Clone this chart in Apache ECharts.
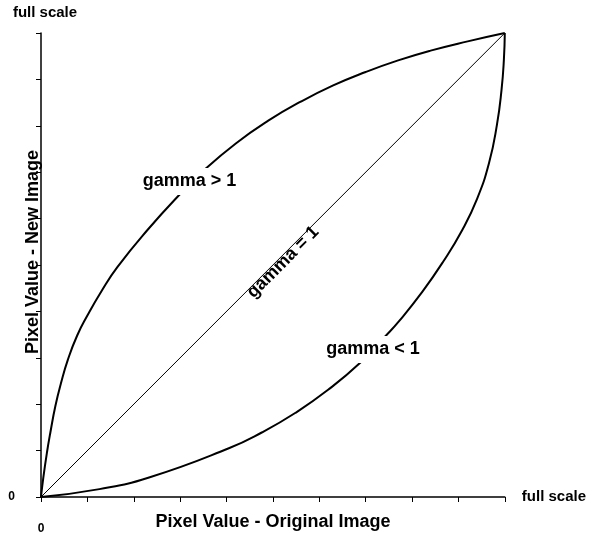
<!DOCTYPE html>
<html>
<head>
<meta charset="utf-8">
<script src="https://cdn.jsdelivr.net/npm/echarts@6/dist/echarts.min.js"></script>
<style>
  html, body { margin: 0; padding: 0; background: #fff; }
  #chart { width: 589px; height: 535px; }
</style>
</head>
<body>
<div id="chart"></div>
<script>
// Transfer curves: original pixel value (x) to new pixel value (y), 0..full scale
const fullScale = 10;

const gammaAbove = [
  [0, 0], [0.05, 0.42], [0.13, 0.97], [0.2, 1.38], [0.31, 1.96],
  [0.43, 2.45], [0.58, 2.96], [0.78, 3.48], [1.0, 3.91], [1.3, 4.43],
  [1.65, 4.96], [2.3, 5.76], [3.0, 6.53], [3.5, 7.03], [4.2, 7.62],
  [4.9, 8.11], [5.6, 8.52], [6.3, 8.87], [7.0, 9.16], [7.7, 9.41],
  [8.4, 9.62], [9.2, 9.82], [10, 10]
];

const gammaOne = [[0, 0], [10, 10]];

const gammaBelow = [
  [0, 0], [1.26, 0.17], [2.33, 0.42], [4.05, 1.05], [4.76, 1.39],
  [5.48, 1.81], [6.19, 2.31], [6.90, 2.91], [7.42, 3.46], [7.72, 3.79],
  [8.22, 4.42], [8.67, 5.07], [9.08, 5.75], [9.40, 6.42], [9.66, 7.20],
  [9.83, 8.02], [9.93, 8.78], [9.98, 9.42], [10, 10]
];

const curveNames = ['gamma > 1', 'gamma = 1', 'gamma < 1'];
const endLabel = 'full scale';
const originLabel = '0';
const xTitle = 'Pixel Value - Original Image';
const yTitle = 'Pixel Value - New Image';

const FONT = '"Liberation Sans", Arial, Helvetica, sans-serif';
const INK = '#000';

const chart = echarts.init(document.getElementById('chart'), null, { renderer: 'canvas' });

function axis(nameGap, namePadding) {
  return {
    type: 'value',
    min: 0,
    max: fullScale,
    interval: 1,
    name: endLabel,
    nameLocation: 'end',
    nameGap: nameGap,
    nameTextStyle: {
      fontFamily: FONT, fontWeight: 'bold', fontSize: 15, color: INK,
      padding: namePadding
    },
    axisLine: { show: true, lineStyle: { color: INK, width: 1.5 } },
    axisTick: { show: true, inside: false, length: 5, lineStyle: { color: INK, width: 1 } },
    splitLine: { show: false },
    axisLabel: {
      show: true,
      formatter: v => (v === 0 ? originLabel : ''),
      fontFamily: FONT, fontWeight: 'bold', fontSize: 12, color: INK
    }
  };
}

const xAxis = axis(17, 0);
xAxis.axisLabel.margin = 26;
const yAxis = axis(13, [0, 0, 0, 8]);
yAxis.axisLabel.margin = 26;
yAxis.axisLabel.padding = [3, 0, 0, 0];

chart.setOption({
  animation: false,
  backgroundColor: '#fff',
  grid: { left: 41, right: 81, top: 33, bottom: 37, containLabel: false },
  xAxis: xAxis,
  yAxis: yAxis,
  series: [
    {
      type: 'line', data: gammaAbove, smooth: 0.5, showSymbol: false,
      lineStyle: { color: INK, width: 2 }
    },
    {
      type: 'line', data: gammaOne, showSymbol: false,
      lineStyle: { color: INK, width: 1 }
    },
    {
      type: 'line', data: gammaBelow, smooth: 0.5, showSymbol: false,
      lineStyle: { color: INK, width: 2 }
    }
  ]
});

// Curve captions, anchored in data coordinates of the plot
const captions = [
  { at: [3.20, 6.80], text: curveNames[0], rot: 0, bg: true },
  { at: [5.22, 5.06], text: curveNames[1], rot: Math.PI / 4, bg: false },
  { at: [7.16, 3.18], text: curveNames[2], rot: 0, bg: true }
];

const graphics = captions.map(c => {
  const p = chart.convertToPixel({ gridIndex: 0 }, c.at);
  return {
    type: 'text', x: p[0], y: p[1], rotation: c.rot, z: 100,
    style: {
      text: c.text, font: 'bold 18px ' + FONT, fill: INK,
      align: 'center', verticalAlign: 'middle',
      backgroundColor: c.bg ? '#fff' : null,
      padding: c.bg ? [5, 2, 4, 2] : 0
    }
  };
});

graphics.push(
  {
    type: 'text', x: 273, y: 522,
    style: {
      text: xTitle, font: 'bold 18px ' + FONT, fill: INK,
      align: 'center', verticalAlign: 'middle'
    }
  },
  {
    type: 'text', x: 33, y: 252, rotation: Math.PI / 2,
    style: {
      text: yTitle, font: 'bold 18px ' + FONT, fill: INK,
      align: 'center', verticalAlign: 'middle'
    }
  }
);

chart.setOption({ graphic: graphics });
</script>
</body>
</html>
